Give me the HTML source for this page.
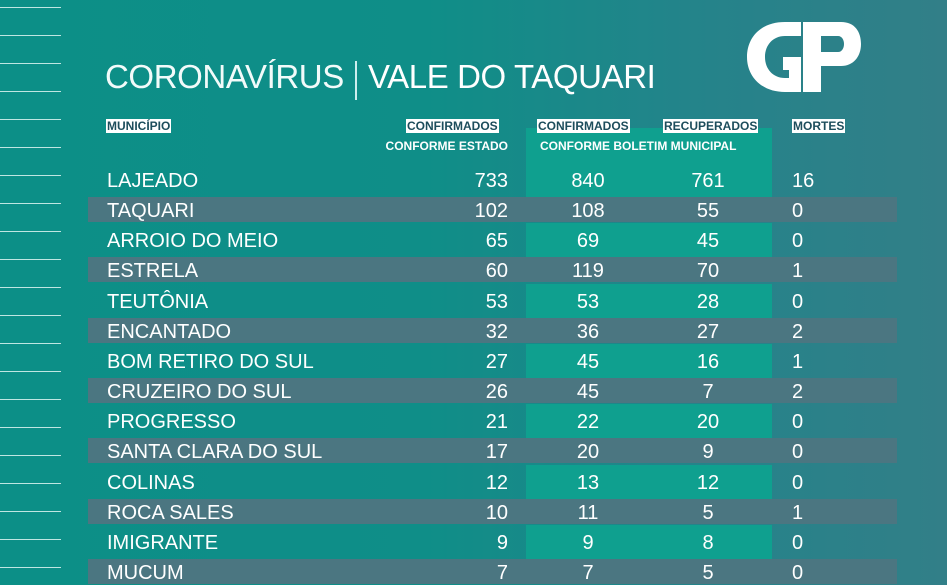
<!DOCTYPE html>
<html><head><meta charset="utf-8"><style>
body{margin:0;width:947px;height:580px;overflow:hidden;position:relative;font-family:"Liberation Sans",sans-serif;
background:linear-gradient(90deg,#0c8f87 0%,#0f8e88 45%,#25838a 75%,#327f88 100%);}
.ln{position:absolute;left:0;width:61px;height:1px;background:#bfe6e2}
.t{position:absolute;color:#fff;white-space:nowrap}
.hd{position:absolute;background:#fff;color:#1d4d5c;font-weight:bold;font-size:12px;line-height:14px;padding:0 1px}
.sub{position:absolute;color:#fff;font-weight:bold;font-size:12px}
.stripe{position:absolute;left:88px;width:809px;height:25px;background:#4b7681}
.green{position:absolute;left:526px;width:246px;background:#0fa08f}
.r{position:absolute;color:#fff;font-size:20px;line-height:24px;white-space:nowrap}
</style></head><body>
<div id="lines"></div>
<div class="green" style="top:128px;height:70px"></div>
<div class="t" style="left:105px;top:58px;font-size:33px;letter-spacing:-0.4px;color:#f2fbfa">CORONAVÍRUS</div>
<div style="position:absolute;left:355px;top:61px;width:2px;height:39px;background:#cdeeee"></div>
<div class="t" style="left:368px;top:58px;font-size:33px;letter-spacing:-0.4px">VALE DO TAQUARI</div>
<svg style="position:absolute;left:745px;top:20px" width="118" height="74" viewBox="0 0 118 74">
<path d="M40 2 C15 2 2 18 2 37 C2 57 17 72 40 72 L56 72 L56 37 L38 37 L38 50 L44 50 L44 58 L40 58 C28 58 20 49 20 37 C20 25 28 16 40 16 L56 16 L56 2 Z" fill="#fff"/>
<path d="M58 2 L96 2 C110 2 116 12 116 24 C116 37 108 46 96 46 L76 46 L76 72 L58 72 Z M76 16 L76 32 L93 32 C97 32 99 28 99 24 C99 20 97 16 93 16 Z" fill="#fff"/>
</svg>
<div class="hd" style="left:106px;top:119px">MUNICÍPIO</div>
<div class="hd" style="left:406px;top:119px">CONFIRMADOS</div>
<div class="hd" style="left:537px;top:119px">CONFIRMADOS</div>
<div class="hd" style="left:663px;top:119px">RECUPERADOS</div>
<div class="hd" style="left:792px;top:119px">MORTES</div>
<div class="sub" style="right:439px;top:139px">CONFORME ESTADO</div>
<div class="sub" style="left:540px;top:139px">CONFORME BOLETIM MUNICIPAL</div>
<div id="rows"></div>
<script>
var L=document.getElementById('lines'),h='';
for(var y=7;y<580;y+=28)h+='<div class="ln" style="top:'+y+'px"></div>';
L.innerHTML=h;
var d=[["LAJEADO",733,840,761,16],["TAQUARI",102,108,55,0],["ARROIO DO MEIO",65,69,45,0],["ESTRELA",60,119,70,1],["TEUTÔNIA",53,53,28,0],["ENCANTADO",32,36,27,2],["BOM RETIRO DO SUL",27,45,16,1],["CRUZEIRO DO SUL",26,45,7,2],["PROGRESSO",21,22,20,0],["SANTA CLARA DO SUL",17,20,9,0],["COLINAS",12,13,12,0],["ROCA SALES",10,11,5,1],["IMIGRANTE",9,9,8,0],["MUCUM",7,7,5,0]];
h='';
for(var i=0;i<d.length;i++){var c=180+i*30.15,tt=c-11;
if(i%2==1)h+='<div class="stripe" style="top:'+(c-13)+'px"></div>';
else if(i>0)h+='<div class="green" style="top:'+(c-17)+'px;height:35px"></div>';
h+='<div class="r" style="left:107px;top:'+tt+'px">'+d[i][0]+'</div>';
h+='<div class="r" style="right:439px;top:'+tt+'px">'+d[i][1]+'</div>';
h+='<div class="r" style="left:538px;width:100px;text-align:center;top:'+tt+'px">'+d[i][2]+'</div>';
h+='<div class="r" style="left:658px;width:100px;text-align:center;top:'+tt+'px">'+d[i][3]+'</div>';
h+='<div class="r" style="left:792px;top:'+tt+'px">'+d[i][4]+'</div>';}
document.getElementById('rows').innerHTML=h;
</script>
</body></html>
